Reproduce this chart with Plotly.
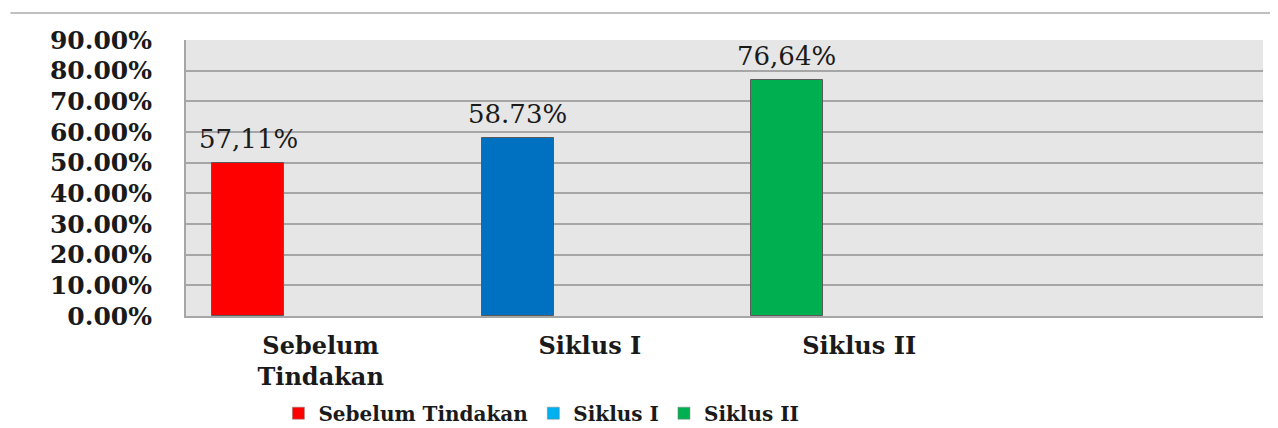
import plotly.graph_objects as go

# ---- data ----
categories = ["Sebelum<br>Tindakan", "Siklus I", "Siklus II", " "]
series_names = ["Sebelum Tindakan", "Siklus I", "Siklus II"]
bar_values = [50.0, 58.1, 77.1]           # bar heights as drawn (percent)
bar_labels = ["57,11%", "58.73%", "76,64%"]  # data labels as printed
bar_colors = ["#ff0000", "#0070c0", "#00b050"]
legend_colors = ["#ff0000", "#00b0f0", "#00b050"]
y_ticks = [0, 10, 20, 30, 40, 50, 60, 70, 80, 90]
y_tick_text = [f"{v:.2f}%" for v in y_ticks]

BAR_W = 0.267
BAR_OFF = -0.402
TXT = "#1a1a1a"
SERIF = "DejaVu Serif"

fig = go.Figure()

for i, name in enumerate(series_names):
    fig.add_trace(go.Bar(
        x=[categories[i]], y=[bar_values[i]], name=name,
        width=BAR_W, offset=BAR_OFF,
        marker=dict(color=bar_colors[i], line=dict(color="#5a5a5a", width=1)),
        showlegend=False, hoverinfo="skip",
    ))
    # legend-only entry
    fig.add_trace(go.Scatter(
        x=[None], y=[None], mode="markers", name=name,
        marker=dict(symbol="square", size=12, color=legend_colors[i],
                    line=dict(color="#7f7f7f", width=0.5)),
        showlegend=True,
    ))
    fig.add_annotation(
        x=i + BAR_OFF + BAR_W / 2, y=bar_values[i], xref="x", yref="y",
        text=bar_labels[i], showarrow=False, yanchor="middle", yshift=24,
        font=dict(family=SERIF, size=26, color=TXT),
    )

fig.add_shape(type="line", xref="paper", yref="paper",
              x0=-0.163, x1=1.014, y0=1.098, y1=1.098,
              line=dict(color="#c0c0c0", width=2))

fig.update_layout(
    width=1270, height=420,
    margin=dict(l=178, r=15, t=32, b=112, autoexpand=False),
    paper_bgcolor="white", plot_bgcolor="#e6e6e6",
    barmode="overlay",
    bargap=0,
    font=dict(family=SERIF, color=TXT),
    legend=dict(orientation="h", x=0.33, xanchor="center", y=-0.352, yanchor="middle",
                font=dict(family=SERIF, size=20, color=TXT, weight="bold"),
                itemsizing="trace", bgcolor="rgba(0,0,0,0)", borderwidth=0),
    xaxis=dict(type="category", categoryorder="array", categoryarray=categories,
               range=[-0.5, 3.5], showgrid=False, zeroline=False,
               showline=True, linecolor="#a6a6a6", linewidth=2,
               ticks="", ticklabelstandoff=7, automargin=False,
               tickfont=dict(family=SERIF, size=24, color=TXT, weight="bold"),
               fixedrange=True),
    yaxis=dict(range=[0, 90], tickmode="array", tickvals=y_ticks, ticktext=y_tick_text,
               showgrid=True, gridcolor="#a6a6a6", gridwidth=2,
               zeroline=False, showline=True, linecolor="#a6a6a6", linewidth=2,
               ticks="", ticklabelstandoff=27, automargin=False,
               tickfont=dict(family=SERIF, size=25, color=TXT, weight="bold"),
               fixedrange=True),
)

fig.write_html("out.html")
